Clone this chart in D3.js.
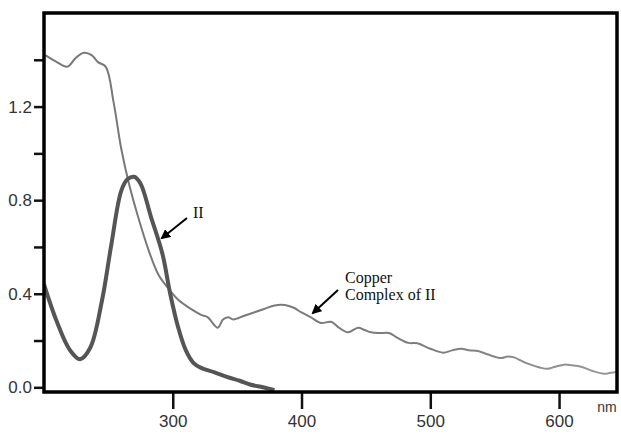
<!DOCTYPE html>
<html>
<head>
<meta charset="utf-8">
<script src="https://cdn.jsdelivr.net/npm/d3@7"></script>
<style>
  body { margin: 0; background: #fff; }
  svg { display: block; }
</style>
</head>
<body>
<div class="container"></div>
<script>
const width = 621;
const height = 434;

// ligand II (thick curve)
const ligandWl  = [200, 210, 220, 228, 236, 245, 252, 260, 265, 270, 275, 283, 292, 298, 304, 310, 316, 322, 332, 342, 352, 360, 370, 379];
const ligandAbs = [0.44, 0.28, 0.16, 0.12, 0.17, 0.37, 0.60, 0.84, 0.89, 0.90, 0.87, 0.73, 0.57, 0.40, 0.26, 0.16, 0.105, 0.083, 0.065, 0.045, 0.028, 0.012, 0.0, -0.012];

// copper complex of II (thin curve)
const copperWl  = [201, 210, 218, 225, 231, 237, 242, 248, 254, 260, 266, 273, 281, 289, 297, 304, 314, 322, 327, 335, 339, 343, 347, 355, 363, 371, 379, 387, 394, 400, 407, 415, 423, 429, 436, 444, 449, 454, 461, 468, 475, 483, 490, 500, 510, 517, 524, 530, 537, 545, 555, 560, 565, 572, 578, 585, 591, 597, 604, 610, 617, 626, 635, 640, 645];
const copperAbs = [1.42, 1.39, 1.37, 1.41, 1.43, 1.42, 1.39, 1.37, 1.22, 1.02, 0.87, 0.73, 0.59, 0.48, 0.42, 0.375, 0.335, 0.31, 0.30, 0.255, 0.29, 0.30, 0.29, 0.305, 0.32, 0.335, 0.35, 0.352, 0.34, 0.32, 0.30, 0.275, 0.28, 0.255, 0.235, 0.255, 0.245, 0.235, 0.232, 0.232, 0.21, 0.19, 0.188, 0.165, 0.148, 0.158, 0.165, 0.158, 0.155, 0.14, 0.125, 0.132, 0.128, 0.11, 0.097, 0.085, 0.079, 0.088, 0.097, 0.094, 0.088, 0.07, 0.058, 0.062, 0.066];

const xTicks = [300, 400, 500, 600];
const yMajor = [0.0, 0.4, 0.8, 1.2];
const yMinor = [0.2, 0.6, 1.0, 1.4];

const x = d3.scaleLinear().domain([200, 645]).range([44, 617]);
const y = d3.scaleLinear().domain([-0.02, 1.6]).range([392, 13]);

const svg = d3.select(".container")
  .append("svg")
  .attr("width", width)
  .attr("height", height);

svg.append("defs").append("marker")
    .attr("id", "head")
    .attr("viewBox", "0 0 10 10")
    .attr("refX", 8).attr("refY", 5)
    .attr("markerWidth", 5).attr("markerHeight", 5)
    .attr("orient", "auto")
  .append("path")
    .attr("d", "M0,0 L10,5 L0,10 Z")
    .attr("fill", "#000");

const grad = svg.select("defs").append("linearGradient")
    .attr("id", "fade")
    .attr("gradientUnits", "userSpaceOnUse")
    .attr("x1", x(200)).attr("x2", x(645))
    .attr("y1", 0).attr("y2", 0);
grad.append("stop").attr("offset", "0%").attr("stop-color", "#777");
grad.append("stop").attr("offset", "70%").attr("stop-color", "#7d7d7d");
grad.append("stop").attr("offset", "100%").attr("stop-color", "#9a9a9a");

const line = d3.line()
  .x(d => x(d[0]))
  .y(d => y(d[1]))
  .curve(d3.curveCatmullRom.alpha(0.5));

const plot = svg.append("g");
plot.append("clipPath").attr("id", "clip")
  .append("rect")
    .attr("x", 44).attr("y", 13)
    .attr("width", 573).attr("height", 379);

const curves = plot.append("g").attr("clip-path", "url(#clip)");

curves.append("path")
  .datum(d3.zip(copperWl, copperAbs))
  .attr("fill", "none")
  .attr("stroke", "url(#fade)")
  .attr("stroke-width", 2)
  .attr("d", line);

curves.append("path")
  .datum(d3.zip(ligandWl, ligandAbs))
  .attr("fill", "none")
  .attr("stroke", "#555")
  .attr("stroke-width", 4)
  .attr("stroke-linejoin", "round")
  .attr("d", line);

// axes
svg.append("g")
  .attr("transform", `translate(0,${392})`)
  .call(d3.axisBottom(x).tickValues(xTicks).tickSize(17).tickPadding(6).tickFormat(d3.format("d")));

svg.append("g")
  .attr("transform", `translate(${44},0)`)
  .call(d3.axisLeft(y).tickValues(yMajor).tickSize(10).tickPadding(2).tickFormat(d3.format(".1f")));

svg.append("g")
  .attr("transform", `translate(${44},0)`)
  .call(d3.axisLeft(y).tickValues(yMinor).tickSize(10).tickFormat(""));

svg.selectAll(".domain").remove();
svg.selectAll(".tick line").attr("stroke", "#111").attr("stroke-width", 2.5);
svg.selectAll(".tick text")
  .attr("fill", "#333")
  .style("font", "17px 'Liberation Sans', Arial, sans-serif");

// frame
svg.append("rect")
  .attr("x", 44).attr("y", 13)
  .attr("width", 573).attr("height", 379)
  .attr("fill", "none")
  .attr("stroke", "#000")
  .attr("stroke-width", 3.5);

svg.append("text")
  .attr("x", 607).attr("y", 412)
  .attr("text-anchor", "middle")
  .attr("fill", "#333")
  .style("font", "14px 'Liberation Sans', Arial, sans-serif")
  .text("nm");

// annotations
const serif = "16px 'Liberation Serif', 'Times New Roman', serif";

svg.append("line")
  .attr("x1", 187).attr("y1", 218)
  .attr("x2", 162).attr("y2", 238)
  .attr("stroke", "#000").attr("stroke-width", 2)
  .attr("marker-end", "url(#head)");

svg.append("text")
  .attr("x", 193).attr("y", 218)
  .attr("fill", "#111")
  .style("font", serif)
  .text("II");

svg.append("line")
  .attr("x1", 338).attr("y1", 290)
  .attr("x2", 313).attr("y2", 313)
  .attr("stroke", "#000").attr("stroke-width", 2)
  .attr("marker-end", "url(#head)");

const note = svg.append("text")
  .attr("fill", "#111")
  .style("font", serif);
note.append("tspan").attr("x", 345).attr("y", 283).text("Copper");
note.append("tspan").attr("x", 345).attr("y", 300).text("Complex of II");
</script>
</body>
</html>
